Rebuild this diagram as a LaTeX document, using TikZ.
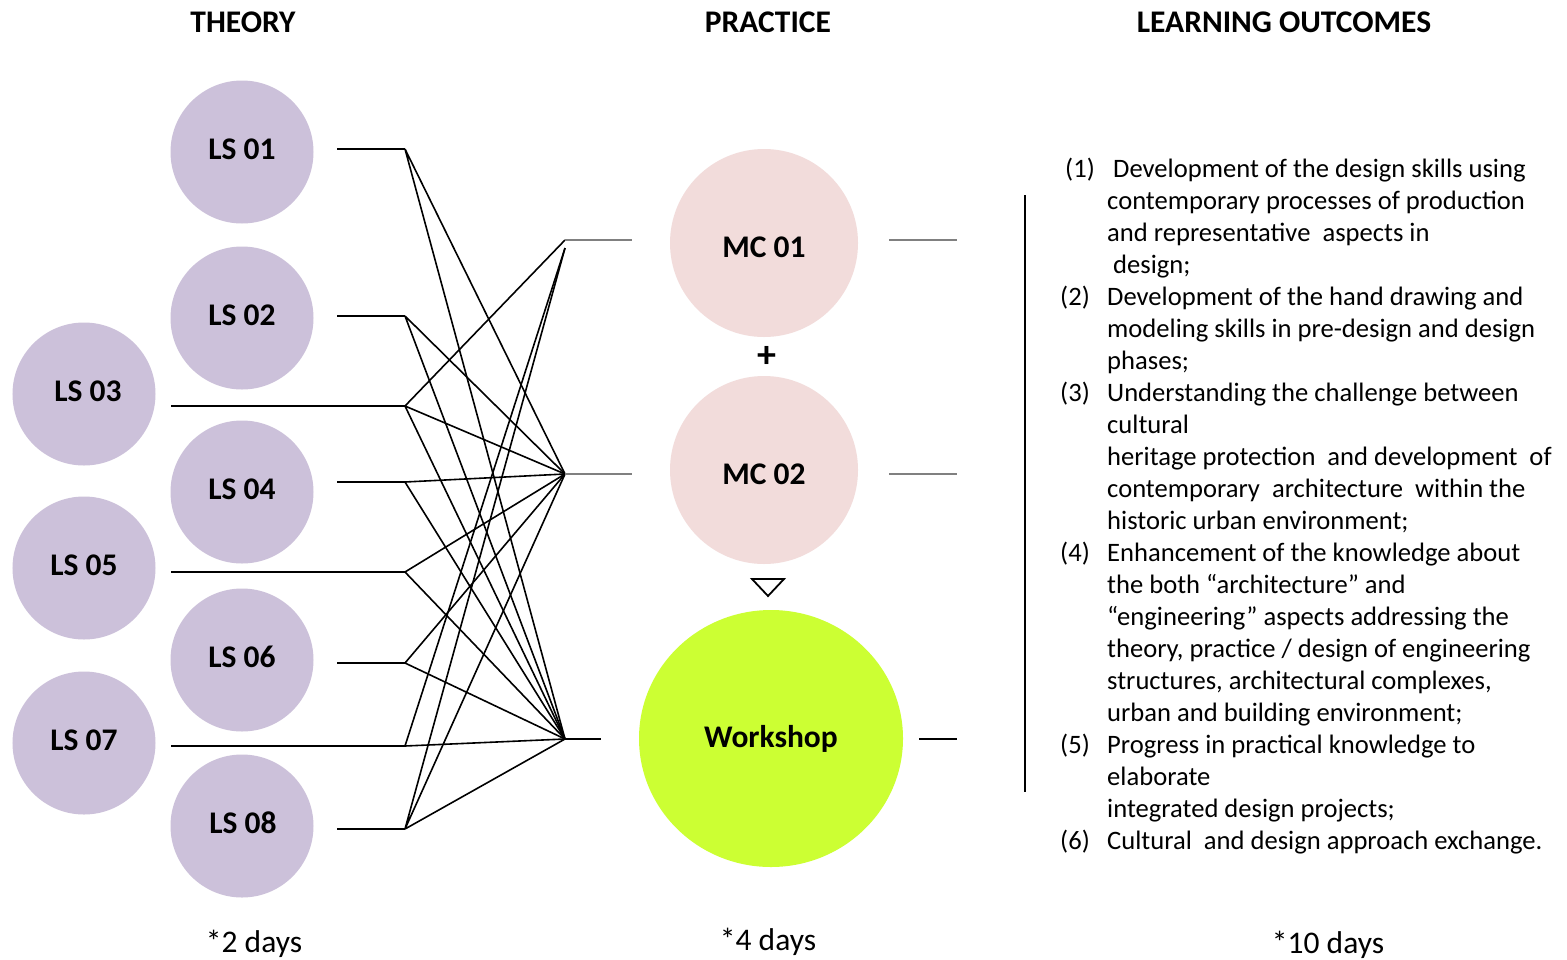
\documentclass[tikz,border=0pt]{standalone}
\usepackage{fontspec}
\usetikzlibrary{shapes.geometric}
\setmainfont{Carlito}
\definecolor{lsfill}{RGB}{204,193,218}
\definecolor{mcfill}{RGB}{242,220,219}
\definecolor{wsfill}{RGB}{204,255,51}
\definecolor{glink}{RGB}{128,128,128}
\newcommand{\upby}[2]{\raisebox{#1}[\height][\depth]{#2}}
\begin{document}
\begin{tikzpicture}[x=1bp,y=-1bp,
  big/.style={font=\fontsize{31.5bp}{36bp}\selectfont\bfseries},
  lsc/.style={circle,fill=lsfill,minimum size=143bp,inner sep=0pt,big},
  mcc/.style={circle,fill=mcfill,minimum size=188bp,inner sep=0pt,big},
  wsc/.style={ellipse,fill=wsfill,minimum width=264bp,minimum height=257bp,inner sep=0pt,big},
  titlet/.style={big,anchor=center},
  dayst/.style={font=\fontsize{31.5bp}{36bp}\selectfont},
  link/.style={line width=1.6bp,black},
  glinkst/.style={line width=1.6bp,glink}]
\fill[white] (0,0) rectangle (1567,959);
\path[use as bounding box] (0,0) rectangle (1567,959);

% titles
\node[titlet] (tth) at (243,22) {THEORY};
\node[titlet] (tpr) at (768,22) {PRACTICE};
\node[titlet] (tlo) at (1284,22) {LEARNING OUTCOMES};

% LS circles
\node[lsc] (ls1) at (242,152) {\upby{3bp}{LS 01}\hspace{6bp}};
\node[lsc] (ls2) at (242,318) {\upby{3bp}{LS 02}\hspace{6bp}};
\node[lsc] (ls3) at (84,394) {\hspace{8bp}\upby{3bp}{LS 03}};
\node[lsc] (ls4) at (242,492) {\upby{3bp}{LS 04}\hspace{6bp}};
\node[lsc] (ls5) at (84,568) {\upby{3bp}{LS 05}\hspace{8bp}};
\node[lsc] (ls6) at (242,660) {\upby{3bp}{LS 06}\hspace{6bp}};
\node[lsc] (ls7) at (84,743) {\upby{3bp}{LS 07}\hspace{8bp}};
\node[lsc] (ls8) at (242,826) {\hspace{2bp}\upby{3bp}{LS 08}};

% MC and workshop
\node[mcc] (mc1) at (764,243) {\upby{-4bp}{MC 01}\hspace{6bp}};
\node[mcc] (mc2) at (764,470) {\upby{-4bp}{MC 02}\hspace{6bp}};
\node[wsc] (ws) at (771,738.5) {Workshop};
\node[big,font=\fontsize{38bp}{40bp}\selectfont\bfseries] (plus) at (767,357) {+};
\coordinate (tri1) at (752,579);
\coordinate (tri2) at (784,579);
\coordinate (tri3) at (768,596);
\draw[line width=1.8bp,line join=miter] (tri1) -- (tri2) -- (tri3) -- cycle;

% start points and junctions
\coordinate (a1) at (337,149); \coordinate (j1) at (405,149);
\coordinate (a2) at (337,316); \coordinate (j2) at (405,316);
\coordinate (a3) at (171,406); \coordinate (j3) at (405,406);
\coordinate (a4) at (337,482); \coordinate (j4) at (405,482);
\coordinate (a5) at (171,572); \coordinate (j5) at (405,572);
\coordinate (a6) at (337,663); \coordinate (j6) at (405,663);
\coordinate (a7) at (171,746); \coordinate (j7) at (405,746);
\coordinate (a8) at (337,829); \coordinate (j8) at (405,829);
\coordinate (m1) at (565,240); \coordinate (m1b) at (565,248);
\coordinate (m2) at (565,474);
\coordinate (w) at (565,739);
\coordinate (m1e) at (632,240);
\coordinate (m2e) at (632,474);
\coordinate (we) at (601,739);
\coordinate (r1s) at (889,240); \coordinate (r1e) at (957,240);
\coordinate (r2s) at (889,474); \coordinate (r2e) at (957,474);
\coordinate (r3s) at (919,739); \coordinate (r3e) at (957,739);
\coordinate (vt) at (1025,195); \coordinate (vb) at (1025,792);

\draw[link] (a1) -- (j1) (a2) -- (j2) (a3) -- (j3) (a4) -- (j4)
            (a5) -- (j5) (a6) -- (j6) (a7) -- (j7) (a8) -- (j8);
\draw[link] (j1) -- (m2) (j1) -- (w);
\draw[link] (j2) -- (m2) (j2) -- (w);
\draw[link] (j3) -- (m1) (j3) -- (m2) (j3) -- (w);
\draw[link] (j4) -- (m2) (j4) -- (w);
\draw[link] (j5) -- (m2) (j5) -- (w);
\draw[link] (j6) -- (m2) (j6) -- (w);
\draw[link] (j7) -- (m1b) (j7) -- (w);
\draw[link] (j8) -- (m1b) (j8) -- (m2) (j8) -- (w);
\draw[glinkst] (m1) -- (m1e);
\draw[glinkst] (m2) -- (m2e);
\draw[link] (w) -- (we);
\draw[glinkst] (r1s) -- (r1e);
\draw[glinkst] (r2s) -- (r2e);
\draw[link] (r3s) -- (r3e);
\draw[line width=1.8bp] (vt) -- (vb);

% learning outcomes
\node[anchor=north west,inner sep=0pt,font=\fontsize{26.6bp}{32bp}\selectfont] (lo) at (1060,154.6) {%
\begin{tabular}{@{}p{47bp}@{}l@{}}
\hspace{5bp}(1) & \hspace{6bp}Development of the design skills using\\
 & contemporary processes of production\\
 & and representative\ \ aspects in\\
 & \hspace{6bp}design;\\
(2) & Development of the hand drawing and\\
 & modeling skills in pre-design and design\\
 & phases;\\
(3) & Understanding the challenge between\\
 & cultural\\
 & heritage protection\ \ and development\ \ of\\
 & contemporary\ \ architecture\ \ within the\\
 & historic urban environment;\\
(4) & Enhancement of the knowledge about\\
 & the both “architecture” and\\
 & “engineering” aspects addressing the\\
 & theory, practice / design of engineering\\
 & structures, architectural complexes,\\
 & urban and building environment;\\
(5) & Progress in practical knowledge to\\
 & elaborate\\
 & integrated design projects;\\
(6) & Cultural\ \ and design approach exchange.
\end{tabular}};

% days
\node[dayst] (d1) at (254,944) {*2 days};
\node[dayst] (d2) at (768,942) {*4 days};
\node[dayst] (d3) at (1328,945) {*10 days};
\end{tikzpicture}
\end{document}
